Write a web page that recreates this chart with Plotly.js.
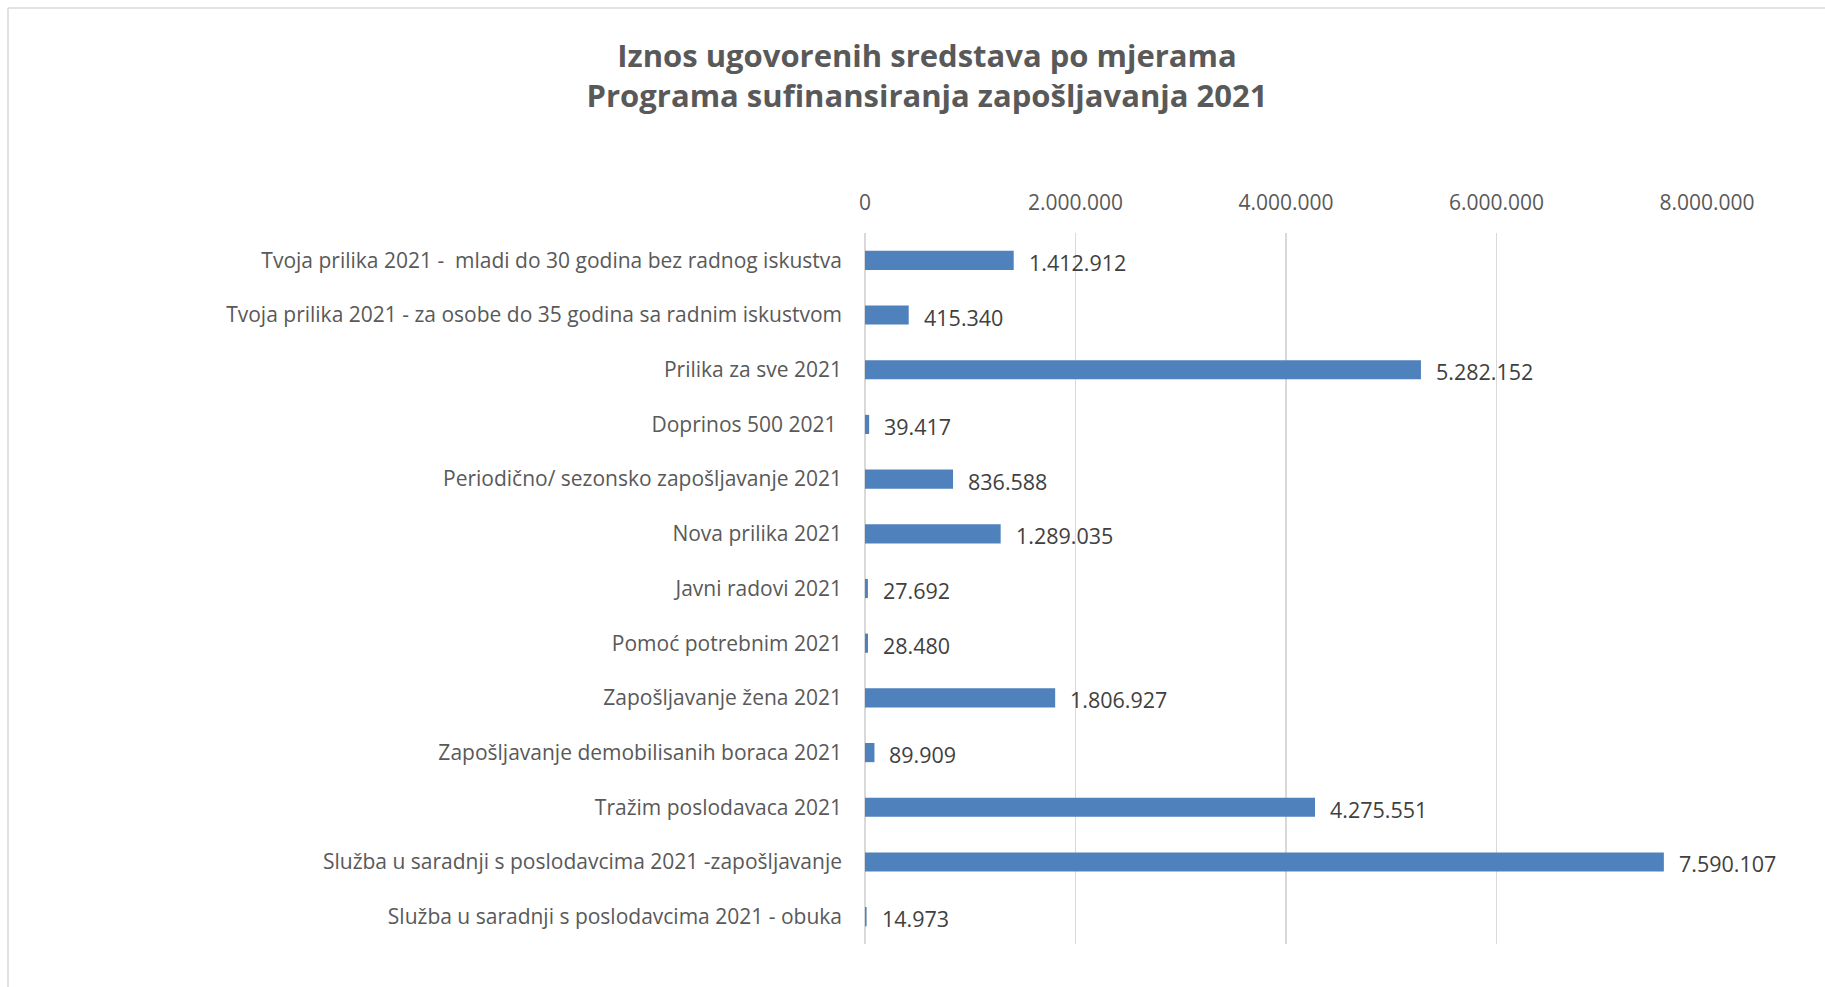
<!DOCTYPE html>
<html>
<head>
<meta charset="utf-8">
<script src="https://cdn.plot.ly/plotly-3.0.1.min.js"></script>
<style>
  html, body { margin: 0; padding: 0; background: #ffffff; }
  #chart { width: 1825px; height: 987px; }
</style>
</head>
<body>
<div id="chart"></div>
<script>
const categories = [
  "Tvoja prilika 2021 -\u00a0 mladi do 30 godina bez radnog iskustva",
  "Tvoja prilika 2021 - za osobe do 35 godina sa radnim iskustvom",
  "Prilika za sve 2021",
  "Doprinos 500 2021\u00a0",
  "Periodično/ sezonsko zapošljavanje 2021",
  "Nova prilika 2021",
  "Javni radovi 2021",
  "Pomoć potrebnim 2021",
  "Zapošljavanje žena 2021",
  "Zapošljavanje demobilisanih boraca 2021",
  "Tražim poslodavaca 2021",
  "Služba u saradnji s poslodavcima 2021 -zapošljavanje",
  "Služba u saradnji s poslodavcima 2021 - obuka"
];
const amounts = [1412912, 415340, 5282152, 39417, 836588, 1289035, 27692, 28480, 1806927, 89909, 4275551, 7590107, 14973];
const tickValues = [0, 2000000, 4000000, 6000000, 8000000];
const titleLines = ["Iznos ugovorenih sredstava po mjerama", "Programa sufinansiranja zapošljavanja 2021"];

const FONT = "'Open Sans', 'Noto Sans', sans-serif";

function fmt(v) {
  return String(v).replace(/\B(?=(\d{3})+(?!\d))/g, ".");
}

const trace = {
  type: "bar",
  orientation: "h",
  x: amounts,
  y: categories,
  width: 0.35,
  marker: { color: "#4f81bd", line: { width: 0 } },
  hoverinfo: "x+y",
  cliponaxis: false
};

const annotations = amounts.map((v, i) => ({
  x: v, y: categories[i], xref: "x", yref: "y",
  text: fmt(v), showarrow: false, xanchor: "left", yanchor: "middle",
  xshift: 13, yshift: -2,
  font: { family: FONT, size: 21.5, color: "#404040" }
}));

// chart-area border (top and left edges visible in the reference)
const L = 865, R = 118, T = 233, B = 43;
const pw = 1825 - L - R, ph = 987 - T - B;
const bx = (8 - L) / pw, by = 1 + (T - 8) / ph;
const shapes = [
  { type: "line", xref: "paper", yref: "paper", x0: bx, x1: 2, y0: by, y1: by, line: { color: "#d9d9d9", width: 1.5 } },
  { type: "line", xref: "paper", yref: "paper", x0: bx, x1: bx, y0: by, y1: -1, line: { color: "#d9d9d9", width: 1.5 } }
];

const layout = {
  width: 1825, height: 987,
  paper_bgcolor: "#ffffff", plot_bgcolor: "#ffffff",
  separators: ",.",
  margin: { l: L, r: R, t: T, b: B, pad: 0 },
  showlegend: false,
  title: {
    text: "<b>" + titleLines[0] + "</b><br><b>" + titleLines[1] + "</b>",
    font: { family: FONT, size: 31, color: "#595959" },
    x: 927 / 1825, xref: "container", xanchor: "center",
    y: 1 - 67 / 987, yref: "container", yanchor: "middle"
  },
  xaxis: {
    side: "top",
    range: [0, 8000000],
    tickvals: tickValues,
    tickformat: ",d",
    showgrid: true, gridcolor: "#d9d9d9", gridwidth: 1.5,
    zeroline: true, zerolinecolor: "#d9d9d9", zerolinewidth: 1.5,
    showline: false, ticks: "",
    ticklabelstandoff: 18,
    tickfont: { family: FONT, size: 21, color: "#595959" },
    fixedrange: true
  },
  yaxis: {
    type: "category",
    autorange: "reversed",
    showgrid: false, zeroline: false, showline: false,
    ticks: "", ticklabelstandoff: 22,
    tickfont: { family: FONT, size: 21, color: "#595959" },
    fixedrange: true
  },
  annotations: annotations,
  shapes: shapes,
  bargap: 0.65
};

Plotly.newPlot("chart", [trace], layout, { displayModeBar: false, staticPlot: true });
</script>
</body>
</html>
